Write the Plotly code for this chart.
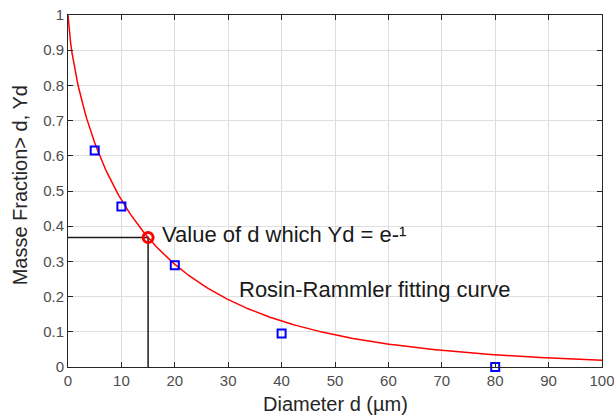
import numpy as np
import plotly.graph_objects as go

# Measured mass fraction above size d
diameters = [5, 10, 20, 40, 80]
mass_fraction = [0.615, 0.456, 0.289, 0.095, 0.0]

# Rosin-Rammler fit parameters: Y = exp(-(d / d_char) ** n_spread)
d_char = 15.0
n_spread = 0.725

x_ticks = [0, 10, 20, 30, 40, 50, 60, 70, 80, 90, 100]
y_ticks = [0, 0.1, 0.2, 0.3, 0.4, 0.5, 0.6, 0.7, 0.8, 0.9, 1]

FONT = "Liberation Sans, Arial, sans-serif"

d_fit = np.linspace(0, 100, 400)
y_fit = np.exp(-(d_fit / d_char) ** n_spread)
y_char = float(np.exp(-1.0))

fig = go.Figure()

# guide lines to the characteristic diameter
fig.add_trace(go.Scatter(x=[0, d_char, d_char], y=[y_char, y_char, 0], mode="lines",
                         line=dict(color="#1a1a1a", width=1.5), hoverinfo="skip"))

fig.add_trace(go.Scatter(x=d_fit, y=y_fit, mode="lines",
                         line=dict(color="#ff0000", width=1.5), cliponaxis=False))

fig.add_trace(go.Scatter(x=diameters, y=mass_fraction, mode="markers", cliponaxis=False,
                         marker=dict(symbol="square-open", size=8, color="#0000ff",
                                     line=dict(width=2, color="#0000ff"))))

fig.add_trace(go.Scatter(x=[d_char], y=[y_char], mode="markers", cliponaxis=False,
                         marker=dict(symbol="circle-open", size=10, color="#ff0000",
                                     line=dict(width=3, color="#ff0000"))))

fig.add_annotation(x=17.2, y=0.376, text="Value of d which Yd = e-¹", showarrow=False,
                   xanchor="left", yanchor="middle",
                   font=dict(family=FONT, size=22, color="#1a1a1a"))
fig.add_annotation(x=31.7, y=0.220, text="Rosin-Rammler fitting curve", showarrow=False,
                   xanchor="left", yanchor="middle",
                   font=dict(family=FONT, size=22, color="#1a1a1a"))

# axis titles
fig.add_annotation(xref="paper", yref="paper", x=0.5, y=0, yshift=-37,
                   text="Diameter d (µm)", showarrow=False, xanchor="center", yanchor="middle",
                   font=dict(family=FONT, size=20, color="#262626"))
fig.add_annotation(xref="paper", yref="paper", x=0, y=0.516, xshift=-48,
                   text="Masse Fraction> d, Yd", showarrow=False, textangle=-90,
                   xanchor="center", yanchor="middle",
                   font=dict(family=FONT, size=20, color="#262626"))

axis_common = dict(showline=True, linecolor="#262626", linewidth=1, mirror="ticks",
                   ticks="inside", ticklen=5, tickcolor="#262626", automargin=False,
                   ticklabeloverflow="allow",
                   showgrid=True, gridcolor="#dedede", gridwidth=1, zeroline=False,
                   tickfont=dict(family=FONT, size=15, color="#4d4d4d"))

fig.update_xaxes(range=[0, 100], tickvals=x_ticks, ticktext=[str(v) for v in x_ticks],
                 **axis_common)
fig.update_yaxes(range=[0, 1], tickvals=y_ticks, ticktext=[f"{v:g}" for v in y_ticks],
                 **axis_common)

fig.update_layout(width=614, height=416, showlegend=False,
                  plot_bgcolor="white", paper_bgcolor="white",
                  margin=dict(l=68, r=12, t=15, b=49))

fig.write_html("out.html")
